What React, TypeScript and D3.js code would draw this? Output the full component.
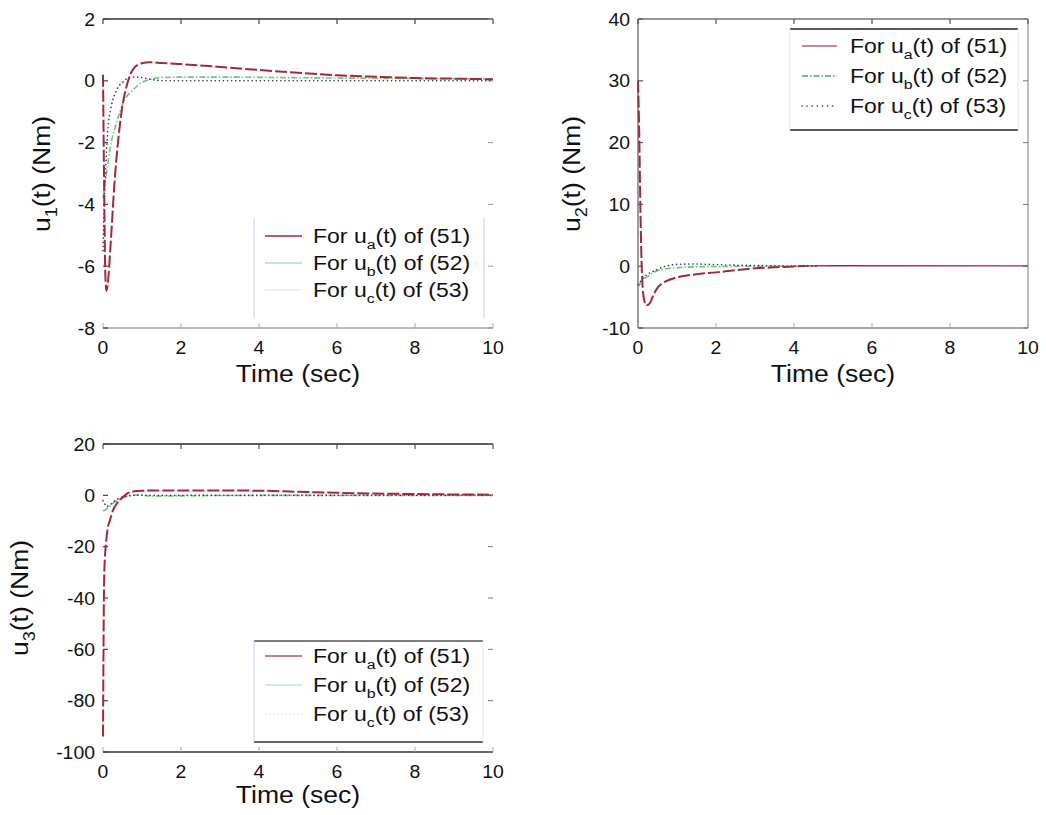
import React from 'react';
import * as d3 from 'd3';

// ---------- data ----------
const X_TICKS = [0, 2, 4, 6, 8, 10];
const P1_Y_TICKS = [-8, -6, -4, -2, 0, 2];
const P2_Y_TICKS = [-10, 0, 10, 20, 30, 40];
const P3_Y_TICKS = [-100, -80, -60, -40, -20, 0, 20];

const LEGEND_SUBS = ['a', 'b', 'c'];
const LEGEND_NUMS = ['51', '52', '53'];

// Panel 1: u1(t)
const P1A_T = [0, 0.03, 0.06, 0.09, 0.12, 0.2, 0.3, 0.4, 0.5, 0.6, 0.7, 0.8, 0.9, 1.0, 1.2, 1.5, 2, 3, 4, 5, 6, 7, 8, 9, 10];
const P1A_U = [0.2, -3.5, -6.3, -6.8, -6.6, -5.2, -3.2, -1.8, -0.8, -0.2, 0.2, 0.42, 0.52, 0.57, 0.6, 0.58, 0.54, 0.45, 0.35, 0.26, 0.18, 0.13, 0.09, 0.07, 0.05];
const P1B_T = [0, 0.1, 0.18, 0.35, 0.52, 0.77, 1.0, 1.2, 1.46, 2, 3, 5, 7, 10];
const P1B_U = [-3.8, -2.9, -2.2, -1.35, -0.7, -0.3, -0.05, 0.04, 0.1, 0.12, 0.12, 0.1, 0.08, 0.06];
const P1C_T = [0, 0.03, 0.07, 0.13, 0.2, 0.35, 0.52, 0.7, 0.9, 1.2, 1.6, 2, 4, 10];
const P1C_U = [-5.5, -4.0, -2.8, -1.5, -0.9, -0.3, -0.03, 0.12, 0.12, 0.05, 0.0, 0, 0, 0];

// Panel 2: u2(t)
const P2A_T = [0, 0.03, 0.06, 0.09, 0.12, 0.16, 0.22, 0.3, 0.4, 0.5, 0.7, 1, 1.5, 2, 2.5, 3, 3.5, 4, 4.3, 5, 10];
const P2A_U = [30, 22, 10, 1, -3.5, -5.5, -6.3, -6.0, -4.6, -3.5, -2.5, -1.8, -1.3, -1.0, -0.65, -0.35, -0.18, -0.05, 0.05, 0.08, 0.05];
const P2B_T = [0, 0.05, 0.1, 0.22, 0.4, 0.56, 0.8, 1.0, 1.5, 2, 3, 4.6];
const P2B_U = [-3.5, -2.8, -2.3, -1.8, -1.0, -0.6, -0.35, -0.25, -0.1, -0.05, 0, 0];
const P2C_T = [0, 0.05, 0.1, 0.2, 0.3, 0.48, 0.65, 0.82, 1.0, 1.5, 2, 3, 4, 4.6];
const P2C_U = [-3.0, -2.6, -2.2, -1.5, -1.1, -0.6, -0.1, 0.15, 0.3, 0.35, 0.25, 0.1, 0.03, 0];

// Panel 3: u3(t)
const P3A_T = [0, 0.015, 0.03, 0.05, 0.08, 0.12, 0.18, 0.26, 0.35, 0.44, 0.54, 0.64, 0.75, 0.87, 1.0, 1.5, 2, 3, 4, 5, 6, 7, 8, 9, 10];
const P3A_U = [-94, -55, -32, -24, -18, -13, -9.6, -5.7, -3.3, -1.8, -0.3, 0.9, 1.4, 1.7, 1.8, 1.9, 1.9, 1.9, 1.8, 1.4, 1.0, 0.7, 0.5, 0.35, 0.25];
const P3B_T = [0, 0.05, 0.1, 0.2, 0.3, 0.4, 0.5, 0.6, 0.7, 0.85, 1, 1.3, 2, 3, 10];
const P3B_U = [-6, -5.8, -5.2, -3.8, -2.6, -1.7, -1.0, -0.5, -0.1, 0.1, 0.0, -0.3, -0.2, -0.05, 0];
const P3C_T = [0, 0.05, 0.1, 0.15, 0.25, 0.35, 0.5, 0.7, 0.9, 1.2, 2, 10];
const P3C_U = [-2, -3.5, -4.3, -4.0, -2.8, -1.6, -0.6, -0.1, 0.1, 0, 0, 0];

// ---------- styles ----------
const FONT = '"Liberation Sans", Arial, Helvetica, sans-serif';
const RED = '#a3283e';
const GREEN = '#72c27a';
const DOT = '#2d3a58';

const PLOT_STYLE = {
  a: { stroke: RED, width: 2, dash: '12,3', cap: 'butt' },
  b: { stroke: GREEN, width: 1.6, dash: '6,2,1.5,2', cap: 'butt' },
  c: { stroke: DOT, width: 1.6, dash: '0.1,4', cap: 'round' },
};

type LS = { stroke: string; width: number; dash?: string; cap?: string };

const zip = (t: number[], u: number[]) => t.map((v, i) => [v, u[i]] as [number, number]);

const PANELS = [
  {
    id: 1, x0: 103, x1: 493, yt: 19, yb: 328, dom: [-8, 2], ticks: P1_Y_TICKS, solidAfter: 99,
    a: zip(P1A_T, P1A_U), b: zip(P1B_T, P1B_U), c: zip(P1C_T, P1C_U),
    spine: { top: '#333', bottom: '#9aa0b8', left: null, right: null },
    tickCol: { left: '#444', right: '#999', top: '#444', bottom: '#aab' },
    ylabX: 50, ylabY: 174, xlabY: 382,
    leg: { x0: 254, x1: 484, y0: 218, y1: 318, rows: [243, 270, 297], lx0: 265, lx1: 302, tx: 313,
      top: null, bottom: null, left: '#c8d4ea', right: '#c8d4ea',
      styles: [
        { stroke: RED, width: 1.6 },
        { stroke: '#bfe2ee', width: 2 },
        { stroke: '#e6eef4', width: 1.5 },
      ] as LS[] },
  },
  {
    id: 2, x0: 638, x1: 1028, yt: 19, yb: 328, dom: [-10, 40], ticks: P2_Y_TICKS, solidAfter: 4.3,
    a: zip(P2A_T, P2A_U), b: zip(P2B_T, P2B_U), c: zip(P2C_T, P2C_U),
    spine: { top: '#777', bottom: '#888', left: '#666', right: '#999' },
    tickCol: { left: '#555', right: '#777', top: '#555', bottom: '#aab' },
    ylabX: 580, ylabY: 174, xlabY: 382,
    leg: { x0: 790, x1: 1018, y0: 29, y1: 130, rows: [53, 83, 113], lx0: 802, lx1: 837, tx: 850,
      top: '#222', bottom: '#222', left: '#dde4ee', right: '#dde4ee',
      styles: [
        { stroke: '#b0607a', width: 1.3 },
        { stroke: GREEN, width: 1.8, dash: '6,2,1.5,2' },
        { stroke: DOT, width: 1.6, dash: '0.1,5', cap: 'round' },
      ] as LS[] },
  },
  {
    id: 3, x0: 103, x1: 493, yt: 444, yb: 752, dom: [-100, 20], ticks: P3_Y_TICKS, solidAfter: 99,
    a: zip(P3A_T, P3A_U), b: zip(P3B_T, P3B_U), c: zip(P3C_T, P3C_U),
    spine: { top: '#222', bottom: '#333', left: null, right: null },
    tickCol: { left: '#444', right: '#777', top: '#555', bottom: '#aab' },
    ylabX: 28, ylabY: 598, xlabY: 803,
    leg: { x0: 254, x1: 483, y0: 641, y1: 742, rows: [663, 692, 721], lx0: 265, lx1: 302, tx: 313,
      top: '#555', bottom: '#333', left: '#c8d4ea', right: '#dde4ee',
      styles: [
        { stroke: '#b0506a', width: 1.5 },
        { stroke: '#cfe8f2', width: 2 },
        { stroke: '#dde2ea', width: 1.5, dash: '1,3' },
      ] as LS[] },
  },
];

function Txt(props: { x: number; y: number; size: number; sx?: number; rot?: number; anchor?: string; dy?: string; children: any }) {
  const { x, y, size, sx = 1.1, rot = 0, anchor = 'middle', dy, children } = props;
  return (
    <text
      transform={`translate(${x},${y}) rotate(${rot}) scale(${sx},1)`}
      textAnchor={anchor as any}
      fontFamily={FONT}
      fontSize={size}
      fill="#111"
      dy={dy}
    >
      {children}
    </text>
  );
}

function Panel({ p }: { p: (typeof PANELS)[number] }) {
  const x = d3.scaleLinear().domain([0, 10]).range([p.x0, p.x1]);
  const y = d3.scaleLinear().domain(p.dom).range([p.yb, p.yt]);
  const line = d3
    .line<[number, number]>()
    .x((d) => x(d[0]))
    .y((d) => y(d[1]))
    .curve(d3.curveMonotoneX);
  const TL = 5;
  const aDashed = p.a.filter((d) => d[0] <= p.solidAfter);
  const aSolid = p.a.filter((d) => d[0] >= p.solidAfter);
  const series: [string, [number, number][]][] = [
    ['b', p.b],
    ['c', p.c],
    ['a', aDashed],
  ];
  const L = p.leg;
  return (
    <g>
      {/* spines */}
      {p.spine.top && <line x1={p.x0} x2={p.x1} y1={p.yt} y2={p.yt} stroke={p.spine.top} strokeWidth={1.6} />}
      {p.spine.bottom && <line x1={p.x0} x2={p.x1} y1={p.yb} y2={p.yb} stroke={p.spine.bottom} strokeWidth={1.3} />}
      {p.spine.left && <line x1={p.x0} x2={p.x0} y1={p.yt} y2={p.yb} stroke={p.spine.left} strokeWidth={1.3} />}
      {p.spine.right && <line x1={p.x1} x2={p.x1} y1={p.yt} y2={p.yb} stroke={p.spine.right} strokeWidth={1.3} />}
      {/* ticks */}
      {X_TICKS.map((t) => (
        <g key={'xt' + t}>
          <line x1={x(t)} x2={x(t)} y1={p.yb} y2={p.yb - TL} stroke={p.tickCol.bottom} strokeWidth={1} />
          <line x1={x(t)} x2={x(t)} y1={p.yt} y2={p.yt + TL} stroke={p.tickCol.top} strokeWidth={1.2} />
          <Txt x={x(t)} y={p.yb + 26} size={18.5} sx={1.05}>{String(t)}</Txt>
        </g>
      ))}
      {p.ticks.map((t) => (
        <g key={'yt' + t}>
          <line x1={p.x0} x2={p.x0 + TL} y1={y(t)} y2={y(t)} stroke={p.tickCol.left} strokeWidth={1.2} />
          <line x1={p.x1} x2={p.x1 - TL} y1={y(t)} y2={y(t)} stroke={p.tickCol.right} strokeWidth={1} />
          <Txt x={p.x0 - 8} y={y(t)} size={18.5} sx={1.05} anchor="end" dy="0.36em">{String(t)}</Txt>
        </g>
      ))}
      {/* curves */}
      {series.map(([k, d]) => {
        const s = (PLOT_STYLE as any)[k];
        return (
          <path
            key={k}
            d={line(d) || ''}
            fill="none"
            stroke={s.stroke}
            strokeWidth={s.width}
            strokeDasharray={s.dash}
            strokeLinecap={s.cap}
          />
        );
      })}
      {aSolid.length > 1 && (
        <path d={line(aSolid) || ''} fill="none" stroke={RED} strokeWidth={1.4} />
      )}
      {/* legend */}
      <rect x={L.x0} y={L.y0} width={L.x1 - L.x0} height={L.y1 - L.y0} fill="#fff" />
      {L.top && <line x1={L.x0} x2={L.x1} y1={L.y0} y2={L.y0} stroke={L.top} strokeWidth={1.6} />}
      {L.bottom && <line x1={L.x0} x2={L.x1} y1={L.y1} y2={L.y1} stroke={L.bottom} strokeWidth={1.6} />}
      {L.left && <line x1={L.x0} x2={L.x0} y1={L.y0} y2={L.y1} stroke={L.left} strokeWidth={1} />}
      {L.right && <line x1={L.x1} x2={L.x1} y1={L.y0} y2={L.y1} stroke={L.right} strokeWidth={1} />}
      {LEGEND_SUBS.map((s, i) => {
        const st = L.styles[i];
        const yy = L.rows[i];
        return (
          <g key={'lg' + s}>
            <line
              x1={L.lx0}
              x2={L.lx1}
              y1={yy - 7}
              y2={yy - 7}
              stroke={st.stroke}
              strokeWidth={st.width}
              strokeDasharray={st.dash}
              strokeLinecap={(st.cap as any) || 'butt'}
            />
            <Txt x={L.tx} y={yy} size={19.5} sx={1.18} anchor="start">
              For u<tspan dy={6} fontSize={13.5}>{s}</tspan>
              <tspan dy={-6}>(t) of ({LEGEND_NUMS[i]})</tspan>
            </Txt>
          </g>
        );
      })}
      {/* axis labels */}
      <Txt x={(p.x0 + p.x1) / 2} y={p.xlabY} size={23.5} sx={1.13}>Time (sec)</Txt>
      <Txt x={p.ylabX} y={p.ylabY} size={23.5} sx={1.13} rot={-90}>
        u<tspan dy={7} fontSize={16}>{String(p.id)}</tspan>
        <tspan dy={-7}>(t) (Nm)</tspan>
      </Txt>
    </g>
  );
}

export default function App() {
  return (
    <svg
      width={1046}
      height={815}
      viewBox="0 0 1046 815"
      style={{ position: 'absolute', left: 0, top: 0, background: '#fff' }}
    >
      <rect x={0} y={0} width={1046} height={815} fill="#fff" />
      {PANELS.map((p) => (
        <Panel key={p.id} p={p} />
      ))}
    </svg>
  );
}
